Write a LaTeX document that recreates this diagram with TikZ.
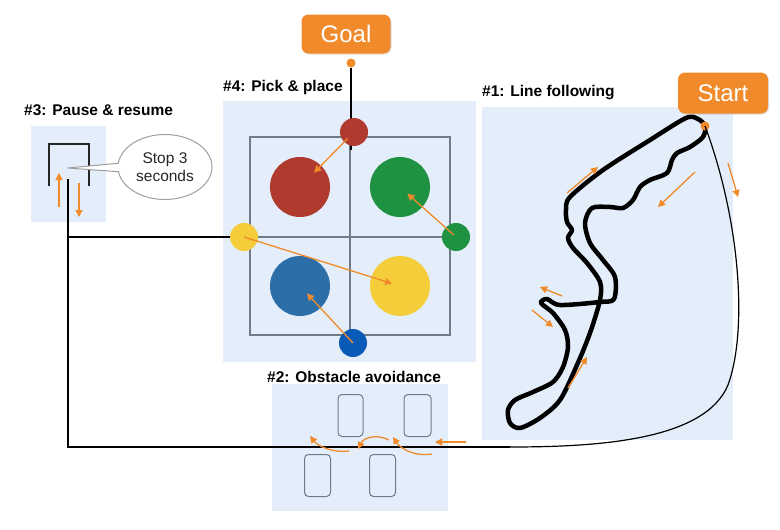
\documentclass[tikz,border=0pt]{standalone}
\usepackage{fontspec}
\setmainfont{Liberation Sans}
\usetikzlibrary{
    shapes,
    shapes.callouts,
    arrows.meta,
    positioning,
    calc,
    shadows}
\definecolor{bgblue}{HTML}{E3EEFA}
\definecolor{mkorange}{HTML}{F08A2B}
\definecolor{gridgray}{HTML}{6F7B87}
\definecolor{ballred}{HTML}{B03A2E}
\definecolor{ballgreen}{HTML}{1F9241}
\definecolor{ballblue}{HTML}{2C6EA8}
\definecolor{ballyellow}{HTML}{F5CD3A}
\definecolor{dotblue}{HTML}{0A5AB8}

\begin{document}
\begin{tikzpicture}[x=1pt,y=-1pt,
    title/.style={anchor=west, inner sep=0pt, font=\fontsize{15.5}{17}\selectfont\bfseries},
    tag/.style={fill=mkorange, rounded corners=7pt, text=white, font=\fontsize{24}{26}\selectfont,
        minimum width=89pt, minimum height=39pt, drop shadow={opacity=.25, shadow xshift=1pt, shadow yshift=-1pt}},
    route/.style={black, line width=1.6pt},
    motion/.style={mkorange, line width=1.3pt, -{Triangle[length=7pt,width=7pt]}},
    bigball/.style={circle, minimum size=60pt, inner sep=0pt},
    smallball/.style={circle, minimum size=28pt, inner sep=0pt},
    pin/.style={circle, fill=mkorange, inner sep=0pt, minimum size=9pt},
    block/.style={draw=gridgray, line width=1pt, rounded corners=4pt, minimum width=26pt, minimum height=42pt}]
    \useasboundingbox (0,0) rectangle (780,530);
    % panels
    \fill[bgblue] (31,126) rectangle (106,222);
    \fill[bgblue] (223,101) rectangle (476,362);
    \fill[bgblue] (482,107) rectangle (733,440);
    \fill[bgblue] (272,384) rectangle (448,511);
    \node[title] (pausetitle) at (24,110) {\#3: Pause \& resume};
    \node[title] (picktitle) at (223,87) {\#4: Pick \& place};
    \node[title] (linetitle) at (482,93) {\#1: Line following};
    \node[title] (obstitle) at (267,377) {\#2: Obstacle avoidance};

    % #3 pause
    \draw[line width=1.5pt, black!85] (49,186) -- (49,144) -- (89,144) -- (89,186);
    \draw[motion] (59,207) -- (59,173);
    \draw[motion] (79,183) -- (79,217);
    \node[ellipse callout, draw=gray!75, line width=1pt, fill=white, minimum width=94pt, minimum height=65pt,
        inner sep=1pt, align=center, font=\fontsize{15.5}{18}\selectfont, text=black!85,
        callout absolute pointer={(68,168)}] (stop) at (165,167) {Stop 3\\seconds};

    % #4 grid
    \draw[gridgray, line width=1.5pt] (250,137) rectangle (450,335);
    \draw[gridgray, line width=1.5pt] (350,137) -- (350,335);
    \draw[gridgray, line width=1.5pt] (250,237) -- (450,237);

    % #1 track
    \draw[line width=4.5pt, black, line join=round] plot[smooth cycle, tension=0.5] coordinates {
        (705,126) (698,119) (686,118) (650,140) (603,170) (570,197) (566,210) (567,222)
        (572,230) (568,238) (573,248) (587,263) (600,282) (600,300) (590,333) (577,365)
        (560,400) (540,418) (520,428) (510,423) (508,410) (515,400) (533,392) (553,382)
        (563,367) (568,347) (565,330) (553,313) (541,303) (547,299) (560,305) (600,302)
        (614,299) (615,277) (603,260) (590,243) (585,223) (592,208) (610,207) (623,208)
        (633,200) (640,187) (650,180) (667,173) (672,160) (677,153) (690,147) (703,137)};

    % route
    \node[tag] (goal) at (346,34) {Goal};
    \node[tag, minimum width=90pt, minimum height=41pt] (start) at (723,93) {Start};
    \coordinate (gridtop) at (351,150);
    \coordinate (trackend) at (510,447);
    \coordinate (turn) at (68,447);
    \coordinate (pausein) at (68,179);
    \coordinate (branch) at (68,237);
    \node[pin] (goaldot) at (351,63) {};
    \node[pin] (startdot) at (705,126) {};
    \draw[route] (goaldot) -- (gridtop);
    \draw[black, line width=1.2pt] (startdot.center) .. controls (740,220) and (748,330) .. (728,385)
        .. controls (705,440) and (600,447) .. (trackend);
    \draw[route] (trackend) -- (turn) -- (pausein);

    % balls
    \node[bigball, fill=ballred] (redbin) at (300,187) {};
    \node[bigball, fill=ballgreen] (greenbin) at (400,187) {};
    \node[bigball, fill=ballblue] (bluebin) at (300,286) {};
    \node[bigball, fill=ballyellow] (yellowbin) at (400,286) {};
    \node[smallball, fill=ballred] (redball) at (354,132) {};
    \node[smallball, fill=ballgreen] (greenball) at (456,237) {};
    \node[smallball, fill=ballyellow] (yellowball) at (244,237) {};
    \node[smallball, fill=dotblue] (blueball) at (353,343) {};
    \draw[route] (branch) -- (yellowball);
    \draw[motion] ($(redball.center)!.12!(redbin.center)$) -- ($(redball.center)!.74!(redbin.center)$);
    \draw[motion] ($(greenball.center)!.04!(greenbin.center)$) -- ($(greenball.center)!.87!(greenbin.center)$);
    \draw[motion] (yellowball.center) -- ($(yellowball.center)!.95!(yellowbin.center)$);
    \draw[motion] (blueball.center) -- ($(blueball.center)!.87!(bluebin.center)$);

    % track arrows
    \draw[motion] (567,193) -- (598,167);
    \draw[motion] (695,172) -- (658,207);
    \draw[motion] (562,296) -- (540,287);
    \draw[motion] (532,310) -- (553,327);
    \draw[motion] (568,388) -- (587,357);
    \draw[motion] (728,163) -- (738,197);

    % #2 obstacles
    \node[block, minimum width=25pt] (obsa) at (350.5,415.5) {};
    \node[block, minimum width=27pt] (obsb) at (417.5,415.5) {};
    \node[block] (obsc) at (317.5,475.5) {};
    \node[block] (obsd) at (382.5,475.5) {};
    \draw[motion] (466,442) -- (435,442);
    \draw[motion] (432,454) .. controls (414,457) and (400,448) .. (393,437);
    \draw[motion] (389,440) .. controls (378,434) and (364,437) .. (358,449);
    \draw[motion] (349,451) .. controls (332,453) and (318,446) .. (310,436);
\end{tikzpicture}
\end{document}
